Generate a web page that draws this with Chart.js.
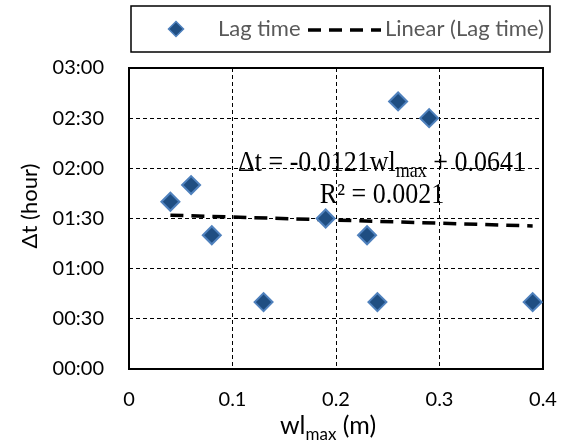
<!DOCTYPE html>
<html>
<head>
<meta charset="utf-8">
<script src="https://cdn.jsdelivr.net/npm/chart.js@4/dist/chart.umd.min.js"></script>
<style>
  body { margin: 0; background: #fff; }
  canvas { display: block; }
</style>
</head>
<body>
<canvas id="lagChart" width="564" height="446"></canvas>
<script>
// data (y in minutes)
const wlMax = [0.04, 0.06, 0.08, 0.13, 0.19, 0.23, 0.24, 0.26, 0.29, 0.39];
const lagMinutes = [100, 110, 80, 40, 90, 80, 40, 160, 150, 40];
const trendX = [0.04, 0.39];
const trendMinutes = [92, 85.5];
const xTicks = [0, 0.1, 0.2, 0.3, 0.4];
const yTicks = [0, 30, 60, 90, 120, 150, 180];
const legendLabels = ['Lag time', 'Linear (Lag time)'];
const equationParts = ['\u0394t = -0.0121wl', 'max', ' + 0.0641'];
const r2Label = 'R\u00b2 = 0.0021';

const pointFill = '#1f4e82';
const pointEdge = '#4f81bd';
const sans = 'Lato';
const serif = '"Liberation Serif"';

function hhmm(min){
	let h = Math.floor(min / 60), m = Math.round(min % 60);
	return String(h).padStart(2, '0') + ':' + String(m).padStart(2, '0');
}

function diamond(ctx, x, y, r){
	ctx.beginPath();
	ctx.moveTo(x, y - r);
	ctx.lineTo(x + r, y);
	ctx.lineTo(x, y + r);
	ctx.lineTo(x - r, y);
	ctx.closePath();
}

// text with a subscript piece in the middle, starts at x
function subText(ctx, parts, x, y, size, subSize, subDrop, font){
	ctx.font = size + 'px ' + font;
	ctx.fillText(parts[0], x, y);
	x += ctx.measureText(parts[0]).width;
	ctx.font = subSize + 'px ' + font;
	ctx.fillText(parts[1], x, y + subDrop);
	x += ctx.measureText(parts[1]).width;
	ctx.font = size + 'px ' + font;
	ctx.fillText(parts[2], x, y);
}

function subWidth(ctx, parts, size, subSize, font){
	ctx.font = size + 'px ' + font;
	let w = ctx.measureText(parts[0]).width + ctx.measureText(parts[2]).width;
	ctx.font = subSize + 'px ' + font;
	return w + ctx.measureText(parts[1]).width;
}

const extras = {
	id: 'extras',
	beforeDatasetsDraw(chart){
		const {ctx, chartArea: a} = chart;
		ctx.save();
		ctx.lineWidth = 2;
		ctx.strokeStyle = '#000';
		ctx.strokeRect(a.left, a.top, a.right - a.left, a.bottom - a.top);
		ctx.restore();
	},
	afterDatasetsDraw(chart){
		const {ctx} = chart;
		ctx.save();
		ctx.fillStyle = '#000';
		ctx.textBaseline = 'alphabetic';
		// equation label
		let w = subWidth(ctx, equationParts, 26, 18, serif);
		ctx.save();
		ctx.translate(382 - w / 2, 171);
		ctx.scale(1, 1.12);
		subText(ctx, equationParts, 0, 0, 26, 18, 5, serif);
		ctx.restore();
		ctx.font = '26px ' + serif;
		w = ctx.measureText(r2Label).width;
		ctx.save();
		ctx.translate(382 - w / 2, 203);
		ctx.scale(1, 1.12);
		ctx.fillText(r2Label, 0, 0);
		ctx.restore();
		ctx.restore();
	},
	afterDraw(chart){
		const {ctx} = chart;
		ctx.save();
		// axis titles
		ctx.fillStyle = '#000';
		ctx.textBaseline = 'alphabetic';
		let parts = ['wl', 'max', ' (m)'];
		let w = subWidth(ctx, parts, 25, 17, sans);
		subText(ctx, parts, 328 - w / 2, 434, 25, 17, 6, sans);
		ctx.save();
		ctx.translate(30, 206);
		ctx.rotate(-Math.PI / 2);
		ctx.font = '22px ' + sans;
		ctx.textAlign = 'center';
		ctx.textBaseline = 'middle';
		ctx.fillText('\u0394t (hour)', 0, 0);
		ctx.restore();

		// legend
		ctx.lineWidth = 1.5;
		ctx.strokeStyle = '#000';
		ctx.strokeRect(131, 6, 419, 46);
		diamond(ctx, 176, 29, 7.5);
		ctx.fillStyle = pointFill;
		ctx.fill();
		ctx.lineWidth = 1.5;
		ctx.strokeStyle = pointEdge;
		ctx.stroke();
		ctx.font = '22px ' + sans;
		ctx.fillStyle = '#595959';
		ctx.textBaseline = 'middle';
		ctx.fillText(legendLabels[0], 218, 29);
		ctx.fillText(legendLabels[1], 385, 29);
		ctx.beginPath();
		ctx.setLineDash([13, 8]);
		ctx.lineWidth = 3.5;
		ctx.strokeStyle = '#000';
		ctx.moveTo(308, 30);
		ctx.lineTo(381, 30);
		ctx.stroke();
		ctx.restore();
	}
};

new Chart(document.getElementById('lagChart'), {
	type: 'scatter',
	data: {
		datasets: [{
			label: legendLabels[0],
			data: wlMax.map((x, i) => ({x: x, y: lagMinutes[i]})),
			pointStyle: 'rectRot',
			pointRadius: 9,
			pointBorderWidth: 2,
			backgroundColor: pointFill,
			borderColor: pointEdge
		}, {
			type: 'line',
			label: legendLabels[1],
			data: trendX.map((x, i) => ({x: x, y: trendMinutes[i]})),
			borderColor: '#000',
			borderWidth: 3.5,
			borderDash: [13, 8],
			pointRadius: 0,
			fill: false,
			order: 1
		}]
	},
	options: {
		responsive: false,
		animation: false,
		layout: {padding: {top: 68, right: 21, left: 0, bottom: 0}},
		plugins: {legend: {display: false}, tooltip: {enabled: false}},
		scales: {
			x: {
				type: 'linear', min: 0, max: 0.4,
				afterBuildTicks: s => { s.ticks = xTicks.map(v => ({value: v})); },
				afterFit: s => { s.height = 77; s.paddingLeft = 0; s.paddingRight = 0; },
				ticks: {
					callback: v => v === 0 ? '0' : v.toFixed(1),
					font: {family: sans, size: 20}, color: '#000', padding: 19, maxRotation: 0
				},
				grid: {color: '#000', lineWidth: 1, drawTicks: false},
				border: {display: false, dash: [4, 3]}
			},
			y: {
				min: 0, max: 180,
				afterBuildTicks: s => { s.ticks = yTicks.map(v => ({value: v})); },
				afterFit: s => { s.width = 129; },
				ticks: {
					callback: v => hhmm(v),
					font: {family: sans, size: 20}, color: '#000', padding: 25
				},
				grid: {color: '#000', lineWidth: 1, drawTicks: false},
				border: {display: false, dash: [4, 3]}
			}
		}
	},
	plugins: [extras]
});
</script>
</body>
</html>
